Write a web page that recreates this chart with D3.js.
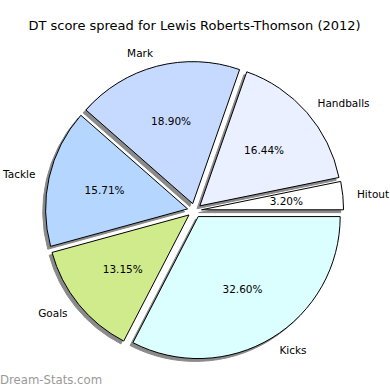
<!DOCTYPE html>
<html>
<head>
<meta charset="utf-8">
<script src="https://cdn.jsdelivr.net/npm/d3@7"></script>
<style>
  body { margin: 0; background: #fff; }
  svg text { font-family: "DejaVu Sans", sans-serif; }
</style>
</head>
<body>
<div id="chart"></div>
<script>
// slices, counter-clockwise from 3 o'clock like the original
const categories = ["Hitout", "Handballs", "Mark", "Tackle", "Goals", "Kicks"];
const percents = [3.20, 16.44, 18.90, 15.71, 13.15, 32.60];
const colors = ["#ffffff", "#eaf0ff", "#c6d9ff", "#b4d6ff", "#d0eb8c", "#dbffff"];
const title = "DT score spread for Lewis Roberts-Thomson (2012)";

const width = 390, height = 390;
const cx = 194.5, cy = 210.5, radius = 142;
const explode = 0.05 * radius;
const shadowOff = 0.02 * radius;

const svg = d3.select("#chart")
    .append("svg")
    .attr("width", width)
    .attr("height", height);

svg.append("text")
    .attr("x", cx)
    .attr("y", 25)
    .attr("text-anchor", "middle")
    .attr("dominant-baseline", "central")
    .style("font-size", "13px")
    .text(title);

const data = categories.map((c, i) => ({ name: c, value: percents[i], color: colors[i] }));

// d3 angles run clockwise from 12 o'clock, so go the other way round
const pie = d3.pie()
    .sort(null)
    .value(d => d.value)
    .startAngle(Math.PI / 2)
    .endAngle(Math.PI / 2 - 2 * Math.PI);

const arcs = pie(data);
const arc = d3.arc().innerRadius(0).outerRadius(radius);

function dir(d) {
    const a = (d.startAngle + d.endAngle) / 2;
    return [Math.sin(a), -Math.cos(a)];
}

const g = svg.append("g").attr("transform", `translate(${cx},${cy})`);

// shadows first
g.append("g")
    .selectAll("path")
    .data(arcs)
    .join("path")
    .attr("transform", d => {
        const [ux, uy] = dir(d);
        return `translate(${ux * explode - shadowOff},${uy * explode + shadowOff})`;
    })
    .attr("d", arc)
    .attr("fill", "#8a8a8a")
    .attr("stroke", "#8a8a8a")
    .attr("stroke-width", 1);

g.append("g")
    .selectAll("path")
    .data(arcs)
    .join("path")
    .attr("transform", d => {
        const [ux, uy] = dir(d);
        return `translate(${ux * explode},${uy * explode})`;
    })
    .attr("d", arc)
    .attr("fill", d => d.data.color)
    .attr("stroke", "#000")
    .attr("stroke-width", 1)
    .attr("stroke-linejoin", "round");

// category labels outside
g.append("g")
    .selectAll("text")
    .data(arcs)
    .join("text")
    .attr("x", d => dir(d)[0] * (1.1 * radius + explode))
    .attr("y", d => dir(d)[1] * (1.1 * radius + explode))
    .attr("text-anchor", d => dir(d)[0] > 0 ? "start" : "end")
    .attr("dominant-baseline", "central")
    .style("font-size", "10.5px")
    .text(d => d.data.name);

// percentage labels inside
g.append("g")
    .selectAll("text")
    .data(arcs)
    .join("text")
    .attr("x", d => dir(d)[0] * (0.6 * radius + explode))
    .attr("y", d => dir(d)[1] * (0.6 * radius + explode))
    .attr("text-anchor", "middle")
    .attr("dominant-baseline", "central")
    .style("font-size", "10.5px")
    .text(d => d.data.value.toFixed(2) + "%");

svg.append("text")
    .attr("x", 0)
    .attr("y", 380)
    .attr("dominant-baseline", "central")
    .attr("fill", "#999")
    .style("font-size", "11.7px")
    .text("Dream-Stats.com");
</script>
</body>
</html>
